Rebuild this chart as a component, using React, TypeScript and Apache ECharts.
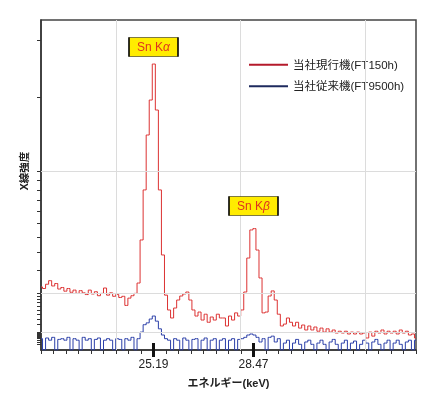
import React, { useEffect, useRef } from "react";
import * as echarts from "echarts";

// Channel calibration (keV)
const startEnergy = 21.5;
const energyStep = 0.1;

// X-ray intensity (counts)
const currentModel = [
  124, 118, 135, 150, 128, 138, 116, 122, 108, 118,
  104, 112, 100, 110, 102, 96, 112, 98, 106, 92,
  100, 120, 94, 102, 90, 96, 86, 90, 62, 84,
  92, 100, 140, 378, 800, 1443, 1951, 2553, 1798, 800,
  282, 94, 50, 32, 55, 78, 91, 98, 105, 78,
  50, 36, 45, 28, 40, 24, 34, 28, 40, 32,
  32, 18, 36, 28, 43, 36, 50, 105, 264, 450,
  460, 312, 162, 43, 45, 91, 109, 78, 40, 18,
  21, 32, 24, 18, 24, 15, 19.5, 12.5, 18, 12.5,
  16.5, 11, 15, 10, 14, 10, 12.5, 9, 11, 9,
  11, 8, 10, 8, 10, 8, 9, 4.5, 10, 6,
  11, 9, 12.5, 8, 11, 9, 11, 8, 12.5, 9,
  11, 7, 8, 4.5,
];

const previousModel = [
  4, 0, 4.5, 3, 5, 0, 3.5, 4, 3, 5,
  0, 4, 3, 0, 5, 3, 4, 0, 3.5, 4.5,
  0, 3, 4, 3, 0, 4, 3.5, 0, 4, 3,
  5, 0, 4, 10, 20, 23, 30, 36, 26, 14,
  7, 4, 3, 0, 4, 3, 0, 4.5, 3, 0,
  3.5, 4, 0, 3, 4.5, 0, 3, 4, 0, 3,
  4, 0, 3, 4, 0, 3.5, 4, 5, 7, 8,
  7, 5, 2, 4, 0, 5, 6, 2, 4, 0,
  1.5, 3, 0, 1.5, 3.5, 1, 0, 2, 3, 1,
  0, 1.5, 3, 1, 0, 2, 3.5, 1, 0, 1.5,
  3, 0, 1.5, 2.5, 0, 1, 3, 1.5, 0, 2,
  3.5, 1, 0, 1.5, 3, 0, 1.5, 3, 1, 0,
  2, 3, 0, 3,
];

const seriesNames = ["当社現行機(FT150h)", "当社従来機(FT9500h)"];
const peakLabels = ["Sn K{g|α}", "Sn K{g|β}"];
const peakEnergies = [25.19, 28.47];
const peakLabelLevels = [2866, 647];
const xTickLabels = [25.19, 28.47];
const minorTickStep = 0.41;
const xMin = 21.5;
const xMax = 33.8;
const yMax = 3400;
const yTickValues = [
  1, 2, 3, 4, 5, 6, 7, 8, 9,
  10, 20, 30, 40, 50, 60, 70, 80, 90,
  100, 200, 300, 400, 500, 600, 700, 800, 900,
  1000, 2000, 3000,
];
const yGridValues = [10, 100, 1000];
const xGridValues = [23.98, 28.04, 32.14];

const FONT = '"Liberation Sans", Arial, "Noto Sans CJK JP", sans-serif';

export default function App() {
  const ref = useRef<HTMLDivElement>(null);

  useEffect(() => {
    if (!ref.current) return;
    const chart = echarts.init(ref.current, null, { renderer: "svg" });

    const toPairs = (vals: number[]) =>
      vals.map((v, i) => [
        Math.round((startEnergy + i * energyStep) * 1000) / 1000,
        Math.sqrt(v),
      ]);

    const xTicks: number[] = [];
    for (let k = -9; k <= 21; k++) {
      xTicks.push(Math.round((peakEnergies[0] + k * minorTickStep) * 1000) / 1000);
    }

    const baseX = {
      type: "value" as const,
      min: xMin,
      max: xMax,
      position: "bottom" as const,
      splitLine: { show: false },
    };

    const option: any = {
      animation: false,
      textStyle: { fontFamily: FONT },
      grid: {
        left: 41,
        right: 30,
        top: 20,
        bottom: 48,
        show: true,
        borderColor: "#444",
        borderWidth: 1.5,
        backgroundColor: "transparent",
      },
      legend: {
        left: 244,
        top: 54,
        orient: "vertical",
        icon: "rect",
        itemWidth: 39,
        itemHeight: 2,
        itemGap: 10,
        textStyle: { fontSize: 11.5, color: "#222", fontFamily: FONT },
        data: [
          { name: seriesNames[0], itemStyle: { color: "#b51a2b" } },
          { name: seriesNames[1], itemStyle: { color: "#1e2a5e" } },
        ],
      },
      xAxis: [
        {
          ...baseX,
          axisLine: { show: true, onZero: false, lineStyle: { color: "#333", width: 1.5 } },
          axisTick: { show: true, customValues: xTicks, length: 4, lineStyle: { color: "#333", width: 1 } },
          axisLabel: { show: false },
          name: "エネルギー(keV)",
          nameLocation: "middle",
          nameGap: 27,
          nameTextStyle: { fontSize: 11, fontWeight: "bold", color: "#222", fontFamily: FONT },
        },
        {
          ...baseX,
          axisLine: { show: false, onZero: false },
          axisTick: { show: true, customValues: xTickLabels, length: 7, lineStyle: { color: "#111", width: 3 } },
          axisLabel: {
            show: true,
            customValues: xTickLabels,
            margin: 8,
            fontSize: 12,
            color: "#222",
            fontFamily: FONT,
            formatter: (v: number) => v.toFixed(2),
          },
        },
        {
          ...baseX,
          axisLine: { show: false, onZero: false },
          axisTick: { show: true, inside: true, customValues: xTickLabels, length: 7, lineStyle: { color: "#111", width: 3 } },
          axisLabel: { show: false },
        },
      ],
      yAxis: {
        type: "value",
        min: 0,
        max: Math.sqrt(yMax),
        axisLine: { show: true, lineStyle: { color: "#333", width: 1.5 } },
        axisTick: {
          show: true,
          customValues: yTickValues.map((v) => Math.sqrt(v)),
          length: 4,
          lineStyle: { color: "#333", width: 1 },
        },
        axisLabel: { show: false },
        splitLine: { show: false },
      },
      graphic: [
        {
          type: "text",
          x: 24,
          y: 171,
          rotation: Math.PI / 2,
          style: {
            text: "X線強度",
            fontSize: 10.5,
            fontWeight: "bold",
            fill: "#222",
            fontFamily: FONT,
            align: "center",
            verticalAlign: "middle",
          },
        },
      ],
      series: [
        {
          type: "line",
          name: "grid",
          data: [],
          silent: true,
          z: 1,
          markLine: {
            silent: true,
            symbol: "none",
            label: { show: false },
            lineStyle: { color: "#dcdcdc", width: 1, type: "solid" },
            data: [
              ...xGridValues.map((v) => ({ xAxis: v })),
              ...yGridValues.map((v) => ({ yAxis: Math.sqrt(v) })),
            ],
          },
        },
        {
          type: "line",
          name: seriesNames[1],
          data: toPairs(previousModel),
          step: "middle",
          symbol: "none",
          z: 3,
          lineStyle: { color: "#2b3fa8", width: 1 },
          itemStyle: { color: "#2b3fa8" },
        },
        {
          type: "line",
          name: seriesNames[0],
          data: toPairs(currentModel),
          step: "middle",
          symbol: "none",
          z: 4,
          lineStyle: { color: "#dc3232", width: 1 },
          itemStyle: { color: "#dc3232" },
          markPoint: {
            symbol: "rect",
            symbolSize: [49, 19],
            itemStyle: { color: "#ffec00", borderColor: "#000", borderWidth: 1 },
            label: {
              show: true,
              position: "inside",
              color: "#e0321e",
              fontSize: 12,
              fontFamily: FONT,
              rich: { g: { fontStyle: "italic", color: "#e0321e", fontSize: 12, fontFamily: FONT } },
            },
            data: peakEnergies.map((e, i) => ({
              coord: [e, Math.sqrt(peakLabelLevels[i])],
              label: { formatter: peakLabels[i] },
            })),
          },
        },
      ],
    };

    chart.setOption(option);
    return () => chart.dispose();
  }, []);

  return (
    <div
      ref={ref}
      style={{ position: "fixed", left: 0, top: 0, width: 446, height: 398 }}
    />
  );
}
